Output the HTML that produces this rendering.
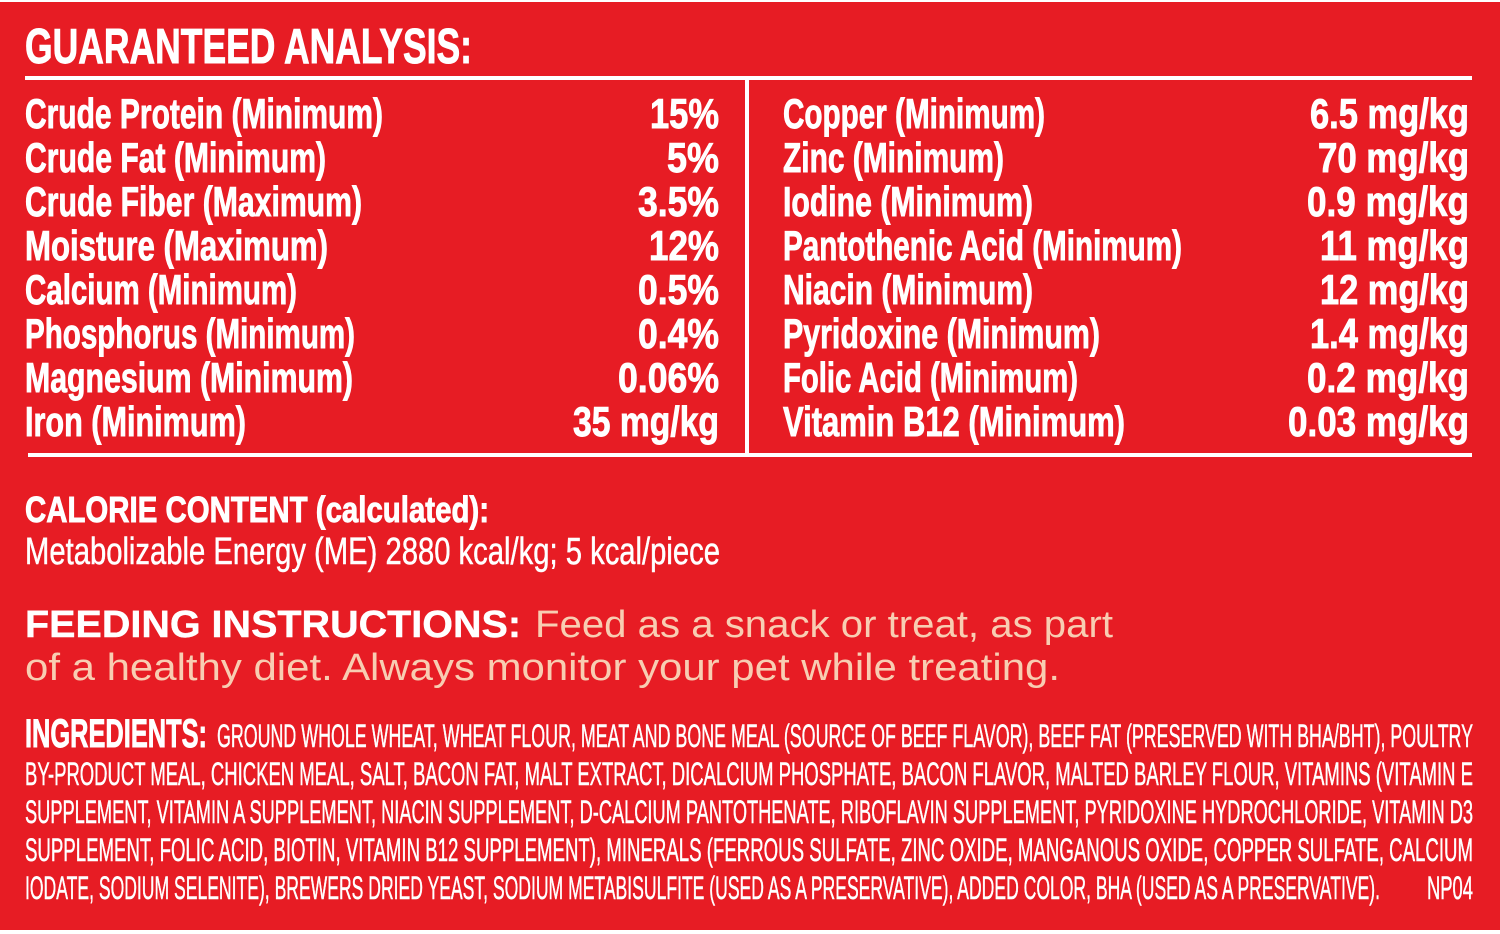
<!DOCTYPE html>
<html>
<head>
<meta charset="utf-8">
<style>
  html,body{margin:0;padding:0;background:#ffffff;}
  svg{display:block;}
  .b{font-family:"Liberation Sans",sans-serif;font-weight:bold;fill:#ffffff;stroke:#ffffff;stroke-width:0.9;}
  .r{font-family:"Liberation Sans",sans-serif;font-weight:normal;fill:#ffffff;stroke:#ffffff;stroke-width:0.5;}
  .p{font-family:"Liberation Sans",sans-serif;font-weight:normal;fill:#f8cdb2;}
</style>
</head>
<body>
<svg width="1500" height="934" viewBox="0 0 1500 934" xmlns="http://www.w3.org/2000/svg">
  <rect x="0" y="0" width="1500" height="934" fill="#ffffff"/>
  <rect x="0" y="2" width="1500" height="928" fill="#e71c24"/>

  <!-- Header -->
  <text class="b" x="25" y="63" font-size="49" textLength="447" lengthAdjust="spacingAndGlyphs">GUARANTEED ANALYSIS:</text>

  <!-- Rules -->
  <rect x="25" y="76" width="1447" height="4" fill="#ffffff"/>
  <rect x="745" y="80" width="4" height="375" fill="#ffffff"/>
  <rect x="28" y="453" width="1444" height="4" fill="#ffffff"/>

  <!-- Left labels -->
  <g class="b" font-size="42">
    <text x="25" y="128" textLength="358" lengthAdjust="spacingAndGlyphs">Crude Protein (Minimum)</text>
    <text x="25" y="172" textLength="301" lengthAdjust="spacingAndGlyphs">Crude Fat (Minimum)</text>
    <text x="25" y="216" textLength="337" lengthAdjust="spacingAndGlyphs">Crude Fiber (Maximum)</text>
    <text x="25" y="260" textLength="303" lengthAdjust="spacingAndGlyphs">Moisture (Maximum)</text>
    <text x="25" y="304" textLength="272" lengthAdjust="spacingAndGlyphs">Calcium (Minimum)</text>
    <text x="25" y="348" textLength="330" lengthAdjust="spacingAndGlyphs">Phosphorus (Minimum)</text>
    <text x="25" y="392" textLength="328" lengthAdjust="spacingAndGlyphs">Magnesium (Minimum)</text>
    <text x="25" y="436" textLength="221" lengthAdjust="spacingAndGlyphs">Iron (Minimum)</text>

    <!-- Left values -->
    <text x="650" y="128" textLength="69" lengthAdjust="spacingAndGlyphs">15%</text>
    <text x="667" y="172" textLength="52" lengthAdjust="spacingAndGlyphs">5%</text>
    <text x="638" y="216" textLength="81" lengthAdjust="spacingAndGlyphs">3.5%</text>
    <text x="649" y="260" textLength="70" lengthAdjust="spacingAndGlyphs">12%</text>
    <text x="638" y="304" textLength="81" lengthAdjust="spacingAndGlyphs">0.5%</text>
    <text x="638" y="348" textLength="81" lengthAdjust="spacingAndGlyphs">0.4%</text>
    <text x="618" y="392" textLength="101" lengthAdjust="spacingAndGlyphs">0.06%</text>
    <text x="573" y="436" textLength="146" lengthAdjust="spacingAndGlyphs">35 mg/kg</text>

    <!-- Right labels -->
    <text x="783" y="128" textLength="262" lengthAdjust="spacingAndGlyphs">Copper (Minimum)</text>
    <text x="783" y="172" textLength="221" lengthAdjust="spacingAndGlyphs">Zinc (Minimum)</text>
    <text x="783" y="216" textLength="250" lengthAdjust="spacingAndGlyphs">Iodine (Minimum)</text>
    <text x="783" y="260" textLength="399" lengthAdjust="spacingAndGlyphs">Pantothenic Acid (Minimum)</text>
    <text x="783" y="304" textLength="250" lengthAdjust="spacingAndGlyphs">Niacin (Minimum)</text>
    <text x="783" y="348" textLength="317" lengthAdjust="spacingAndGlyphs">Pyridoxine (Minimum)</text>
    <text x="783" y="392" textLength="295" lengthAdjust="spacingAndGlyphs">Folic Acid (Minimum)</text>
    <text x="783" y="436" textLength="342" lengthAdjust="spacingAndGlyphs">Vitamin B12 (Minimum)</text>

    <!-- Right values -->
    <text x="1310" y="128" textLength="159" lengthAdjust="spacingAndGlyphs">6.5 mg/kg</text>
    <text x="1318" y="172" textLength="151" lengthAdjust="spacingAndGlyphs">70 mg/kg</text>
    <text x="1307" y="216" textLength="162" lengthAdjust="spacingAndGlyphs">0.9 mg/kg</text>
    <text x="1320" y="260" textLength="149" lengthAdjust="spacingAndGlyphs">11 mg/kg</text>
    <text x="1320" y="304" textLength="149" lengthAdjust="spacingAndGlyphs">12 mg/kg</text>
    <text x="1310" y="348" textLength="159" lengthAdjust="spacingAndGlyphs">1.4 mg/kg</text>
    <text x="1307" y="392" textLength="162" lengthAdjust="spacingAndGlyphs">0.2 mg/kg</text>
    <text x="1288" y="436" textLength="181" lengthAdjust="spacingAndGlyphs">0.03 mg/kg</text>
  </g>

  <!-- Calorie content -->
  <text class="b" x="25" y="522" font-size="36" textLength="464" lengthAdjust="spacingAndGlyphs">CALORIE CONTENT (calculated):</text>
  <text class="r" x="25" y="564" font-size="38" textLength="695" lengthAdjust="spacingAndGlyphs">Metabolizable Energy (ME) 2880 kcal/kg; 5 kcal/piece</text>

  <!-- Feeding instructions -->
  <text class="b" x="25" y="637" font-size="38" textLength="496" lengthAdjust="spacingAndGlyphs" style="stroke-width:0.4">FEEDING INSTRUCTIONS:</text>
  <text class="p" x="535" y="637" font-size="38" textLength="578" lengthAdjust="spacingAndGlyphs">Feed as a snack or treat, as part</text>
  <text class="p" x="25" y="680" font-size="38" textLength="1035" lengthAdjust="spacingAndGlyphs">of a healthy diet. Always monitor your pet while treating.</text>

  <!-- Ingredients -->
  <text class="b" x="25" y="747" font-size="40" textLength="182" lengthAdjust="spacingAndGlyphs">INGREDIENTS:</text>
  <g class="r" font-size="32">
    <text x="217" y="747" textLength="1256" lengthAdjust="spacingAndGlyphs">GROUND WHOLE WHEAT, WHEAT FLOUR, MEAT AND BONE MEAL (SOURCE OF BEEF FLAVOR), BEEF FAT (PRESERVED WITH BHA/BHT), POULTRY</text>
    <text x="25" y="785" textLength="1448" lengthAdjust="spacingAndGlyphs">BY-PRODUCT MEAL, CHICKEN MEAL, SALT, BACON FAT, MALT EXTRACT, DICALCIUM PHOSPHATE, BACON FLAVOR, MALTED BARLEY FLOUR, VITAMINS (VITAMIN E</text>
    <text x="25" y="823" textLength="1448" lengthAdjust="spacingAndGlyphs">SUPPLEMENT, VITAMIN A SUPPLEMENT, NIACIN SUPPLEMENT, D-CALCIUM PANTOTHENATE, RIBOFLAVIN SUPPLEMENT, PYRIDOXINE HYDROCHLORIDE, VITAMIN D3</text>
    <text x="25" y="861" textLength="1448" lengthAdjust="spacingAndGlyphs">SUPPLEMENT, FOLIC ACID, BIOTIN, VITAMIN B12 SUPPLEMENT), MINERALS (FERROUS SULFATE, ZINC OXIDE, MANGANOUS OXIDE, COPPER SULFATE, CALCIUM</text>
    <text x="25" y="899" textLength="1355" lengthAdjust="spacingAndGlyphs">IODATE, SODIUM SELENITE), BREWERS DRIED YEAST, SODIUM METABISULFITE (USED AS A PRESERVATIVE), ADDED COLOR, BHA (USED AS A PRESERVATIVE).</text>
    <text x="1427" y="899" textLength="46" lengthAdjust="spacingAndGlyphs">NP04</text>
  </g>
</svg>
</body>
</html>
